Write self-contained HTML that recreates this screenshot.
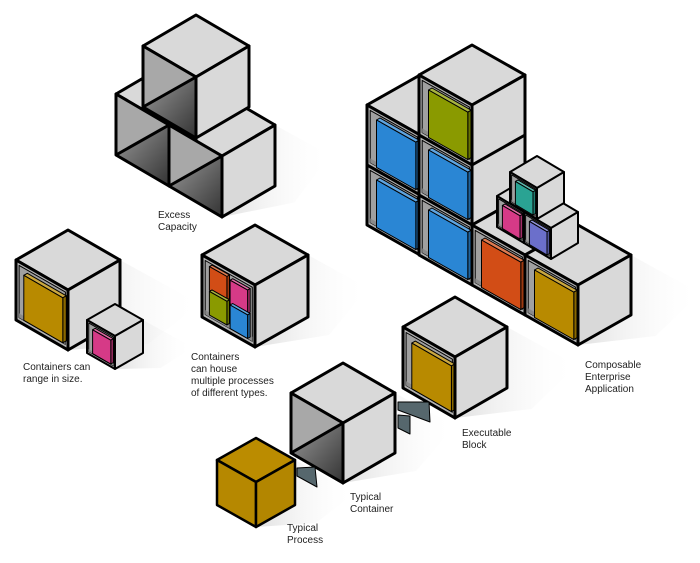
<!DOCTYPE html>
<html><head><meta charset="utf-8"><style>
html,body{margin:0;padding:0;background:#fff;}
svg{display:block}
text{font-family:"Liberation Sans",sans-serif;font-size:10px;fill:#222}
</style></head><body>
<svg id="s" width="700" height="563" viewBox="0 0 700 563" xmlns="http://www.w3.org/2000/svg">
<defs>
<linearGradient id="dk" x1="0" y1="0" x2="1" y2="1"><stop offset="0" stop-color="#9a9a9a"/><stop offset="1" stop-color="#333"/></linearGradient>
<linearGradient id="sh" x1="0" y1="0" x2="1" y2="0"><stop offset="0" stop-color="#d8d8d8"/><stop offset="1" stop-color="#fff" stop-opacity="0"/></linearGradient>
</defs>
<g id="g"></g>
<text x="158" y="218">Excess</text><text x="158" y="230">Capacity</text>
<text x="23" y="370">Containers can</text><text x="23" y="382">range in size.</text>
<text x="191" y="360">Containers</text><text x="191" y="372">can house</text><text x="191" y="384">multiple processes</text><text x="191" y="396">of different types.</text>
<text x="585" y="368">Composable</text><text x="585" y="380">Enterprise</text><text x="585" y="392">Application</text>
<text x="462" y="436">Executable</text><text x="462" y="448">Block</text>
<text x="350" y="500">Typical</text><text x="350" y="512">Container</text>
<text x="287" y="531">Typical</text><text x="287" y="543">Process</text>
</svg>
<script>
(function(){
var out='';
var LG='#d9d9d9';
function P(a){return a.map(function(p){return p[0].toFixed(1)+','+p[1].toFixed(1)}).join(' ')}
function poly(pts,fill,sw){out+='<polygon points="'+P(pts)+'" fill="'+fill+'" stroke="#000" stroke-width="'+(sw||0)+'" stroke-linejoin="round"/>';}
function ln(a,b,sw){out+='<line x1="'+a[0]+'" y1="'+a[1]+'" x2="'+b[0]+'" y2="'+b[1]+'" stroke="#000" stroke-width="'+sw+'"/>';}
function geo(x,y,dx,dy,h){return {x:x,y:y,dx:dx,dy:dy,h:h,C:[x,y],L:[x-dx,y-dy],T:[x,y-2*dy],R:[x+dx,y-dy],B:[x,y+h],LB:[x-dx,y-dy+h],RB:[x+dx,y-dy+h]};}
function topF(g,sw,f){poly([g.C,g.L,g.T,g.R],f||LG,sw);}
function rightF(g,sw,f){poly([g.C,g.R,g.RB,g.B],f||LG,sw);}
function splitF(g,sw){poly([g.L,g.C,g.LB],'#a8a8a8',0);poly([g.LB,g.C,g.B],'url(#dk)',0);ln(g.LB,g.C,sw);poly([g.C,g.L,g.LB,g.B],'none',sw);}
function pt(g,u,v){return [g.L[0]+u*(g.C[0]-g.L[0]), g.L[1]+u*(g.C[1]-g.L[1])+v*g.h];}
function add(p,d){return [p[0]+d[0],p[1]+d[1]];}
function shade(c,k){var n=parseInt(c.slice(1),16),r=n>>16,gg=(n>>8)&255,b=n&255;function f(v){return Math.max(0,Math.min(255,Math.round(k>1?v+(255-v)*(k-1):v*k)));}return 'rgb('+f(r)+','+f(gg)+','+f(b)+')';}
function block(g,u0,u1,v0,v1,col,t){
  var a=pt(g,u0,v0),b=pt(g,u1,v0),c=pt(g,u1,v1),d=pt(g,u0,v1);
  var off=[t*0.87,-t*0.5];
  poly([a,b,add(b,off),add(a,off)],shade(col,1.25),1);
  poly([b,c,add(c,off),add(b,off)],shade(col,0.75),1);
  poly([a,b,c,d],col,1);
}
function cell(g,sw,blocks,t){
  poly([g.C,g.L,g.LB,g.B],'#b3b3b3',0);
  poly([pt(g,.06,.06),pt(g,.95,.06),pt(g,.95,.93),pt(g,.06,.93)],'#a0a0a0',1);
  poly([pt(g,.06,.86),pt(g,.95,.86),pt(g,.95,.93),pt(g,.06,.93)],'#8a8a8a',0);
  blocks.forEach(function(b){block(g,b[0],b[1],b[2],b[3],b[4],t||4);});
  poly([g.C,g.L,g.LB,g.B],'none',sw);
}
function shadow(g,len){var k=len||60;out+='<polygon points="'+P([g.R,add(g.R,[k,k*0.55]),add(g.RB,[k*0.35,k*0.3]),g.B])+'" fill="url(#sh)" opacity="0.8"/>';}

shadow(geo(222,156,53,31,61),55);
shadow(geo(68,290,52,30,60),80);
shadow(geo(115,336,28,16,33),50);
shadow(geo(255,285,53,30,62),60);
shadow(geo(578,285,53,30,60),70);
shadow(geo(455,357,52,30,61),70);
shadow(geo(343,423,52,30,60),60);
shadow(geo(256,482,39,22,45),60);

var bl=geo(169,125,53,31,61), br=geo(222,156,53,31,61), tc=geo(196,77,53,31,61);
topF(bl,3);
poly([[196,141],br.C,br.R,br.T,[196,109]],LG,3);
topF(tc,3);splitF(tc,3);rightF(tc,3);
splitF(bl,3);
splitF(br,3);rightF(br,3);

var big=geo(68,290,52,30,60);
topF(big,3);rightF(big,3);cell(big,3,[[.15,.9,.18,.93,'#b88a00']],4);
var sm=geo(115,336,28,16,33);
topF(sm,2);rightF(sm,2);cell(sm,2,[[.2,.85,.2,.92,'#d63a87']],3);

var mp=geo(255,285,53,30,62);
topF(mp,3);rightF(mp,3);
cell(mp,3,[[.14,.47,.12,.5,'#d24d16'],[.53,.86,.15,.53,'#d63a87'],[.14,.47,.52,.9,'#8a9a00'],[.53,.86,.55,.93,'#2a86d4']],3);

var dx=53,dy=30,h=60;
var c0a=geo(420,135,dx,dy,h), c0b=geo(420,195,dx,dy,h);
topF(c0a,3);
cell(c0a,3,[[.18,.92,.16,.95,'#2a86d4']],4);
cell(c0b,3,[[.18,.92,.16,.95,'#2a86d4']],4);
var c1a=geo(472,105,dx,dy,h), c1b=geo(472,165,dx,dy,h), c1c=geo(472,225,dx,dy,h);
topF(c1a,3);
poly([[472,105],[525,75],[525,195],[472,225]],LG,3);
ln([472,165],[525,135],3);
cell(c1a,3,[[.18,.92,.16,.95,'#8a9a00']],4);
cell(c1b,3,[[.18,.92,.16,.95,'#2a86d4']],4);
cell(c1c,3,[[.18,.92,.16,.95,'#2a86d4']],4);
var c2=geo(525,255,dx,dy,h), c3=geo(578,285,dx,dy,h);
topF(c2,3);topF(c3,3);
cell(c2,3,[[.18,.92,.16,.95,'#d24d16']],4);
cell(c3,3,[[.18,.92,.16,.95,'#b88a00']],4);
rightF(c3,3);
var st=geo(537,188,27,16,31), sp=geo(524,212,27,16,31), sq=geo(551,228,27,16,31);
topF(sp,2);rightF(sp,2);cell(sp,2,[[.2,.85,.2,.95,'#d63a87']],3);
topF(sq,2);rightF(sq,2);cell(sq,2,[[.2,.85,.2,.95,'#6b6fcb']],3);
topF(st,2);rightF(st,2);cell(st,2,[[.2,.85,.2,.95,'#2aa393']],3);

var ex=geo(455,357,52,30,61);
topF(ex,3);rightF(ex,3);cell(ex,3,[[.17,.93,.18,.93,'#b88a00']],4);
poly([[398,402],[429,402],[430,422],[398,410]],'#56676d',1);
poly([[398,415],[410,416],[410,434],[398,428]],'#56676d',1);
var tcn=geo(343,423,52,30,60);
topF(tcn,3);splitF(tcn,3);rightF(tcn,3);
poly([[297,468],[315,467],[317,487],[297,476]],'#56676d',1);
var pr=geo(256,482,39,22,45);
topF(pr,2.5,'#bb8c00');poly([pr.C,pr.L,pr.LB,pr.B],'#b68800',2.5);rightF(pr,2.5,'#b38600');

document.getElementById('g').innerHTML=out;
})();
</script>
</body></html>
